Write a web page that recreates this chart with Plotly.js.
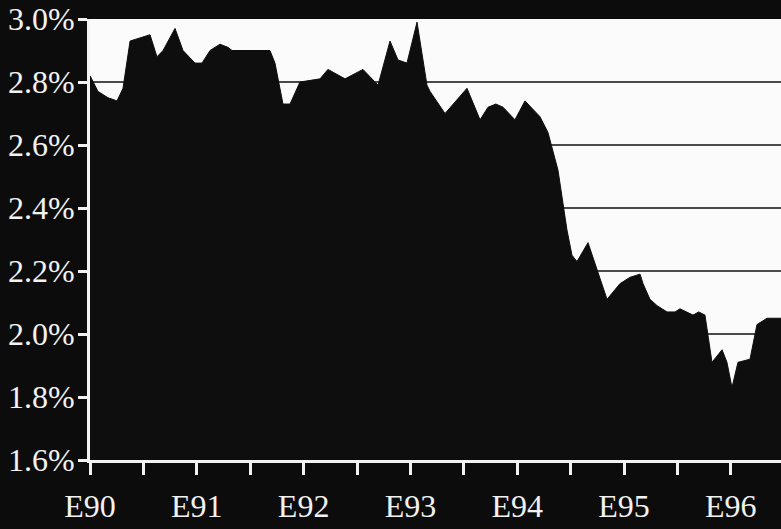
<!DOCTYPE html>
<html>
<head>
<meta charset="utf-8">
<script src="https://cdn.plot.ly/plotly-3.0.1.min.js"></script>
<style>
html,body{margin:0;padding:0;background:#0c0c0c;}
#chart{width:781px;height:529px;}
</style>
</head>
<body>
<div id="chart"></div>
<script>
// Decimal year (E90 = 90.0) and rate in percent
const years = [90.000, 90.075, 90.169, 90.253, 90.309, 90.375, 90.562, 90.627, 90.684, 90.796,
  90.871, 90.983, 91.049, 91.124, 91.217, 91.292, 91.330, 91.685, 91.732, 91.807,
  91.873, 91.966, 92.154, 92.228, 92.388, 92.556, 92.697, 92.809, 92.884, 92.968,
  93.062, 93.155, 93.184, 93.324, 93.530, 93.652, 93.727, 93.800, 93.867, 93.979,
  94.073, 94.213, 94.288, 94.382, 94.466, 94.513, 94.560, 94.663, 94.841, 94.963,
  95.057, 95.150, 95.178, 95.243, 95.310, 95.403, 95.478, 95.524, 95.646, 95.700,
  95.758, 95.824, 95.918, 95.964, 96.011, 96.067, 96.180, 96.245, 96.339, 96.470];
const rates = [2.82, 2.77, 2.75, 2.74, 2.78, 2.93, 2.95, 2.88, 2.90, 2.97,
  2.90, 2.86, 2.86, 2.90, 2.92, 2.91, 2.90, 2.90, 2.86, 2.73,
  2.73, 2.80, 2.81, 2.84, 2.81, 2.84, 2.79, 2.93, 2.87, 2.86,
  2.99, 2.79, 2.77, 2.70, 2.78, 2.68, 2.72, 2.73, 2.72, 2.68,
  2.74, 2.69, 2.64, 2.52, 2.33, 2.25, 2.23, 2.29, 2.11, 2.16,
  2.18, 2.19, 2.16, 2.11, 2.09, 2.07, 2.07, 2.08, 2.06, 2.07,
  2.06, 1.91, 1.95, 1.91, 1.83, 1.91, 1.92, 2.03, 2.05, 2.05];

const xTickVals = [90, 90.5, 91, 91.5, 92, 92.5, 93, 93.5, 94, 94.5, 95, 95.5, 96];
const xTickText = ['E90', '', 'E91', '', 'E92', '', 'E93', '', 'E94', '', 'E95', '', 'E96'];
const yTickVals = [1.6, 1.8, 2.0, 2.2, 2.4, 2.6, 2.8, 3.0];
const yTickText = ['1.6%', '1.8%', '2.0%', '2.2%', '2.4%', '2.6%', '2.8%', '3.0%'];

const trace = {
  x: years, y: rates, type: 'scatter', mode: 'lines',
  line: {color: '#0e0e0e', width: 1},
  fill: 'tozeroy', fillcolor: '#0e0e0e',
  hoverinfo: 'skip'
};

const font = {family: '"Liberation Serif", "Times New Roman", serif', color: '#f2f2f2'};

const layout = {
  width: 781, height: 529,
  margin: {l: 90, r: 0, t: 19, b: 69},
  paper_bgcolor: '#0c0c0c',
  plot_bgcolor: '#fbfbfb',
  showlegend: false,
  xaxis: {
    range: [90, 96.47],
    tickvals: xTickVals, ticktext: xTickText,
    ticks: 'outside', ticklen: 12, tickwidth: 3, tickcolor: '#f2f2f2',
    ticklabelstandoff: 4,
    showline: true, linecolor: '#f2f2f2', linewidth: 3,
    showgrid: false, zeroline: false,
    tickfont: Object.assign({size: 32}, font)
  },
  yaxis: {
    range: [1.6, 3.0],
    tickvals: yTickVals, ticktext: yTickText,
    ticks: 'outside', ticklen: 9, tickwidth: 3, tickcolor: '#f2f2f2',
    ticklabelstandoff: -3,
    showline: true, linecolor: '#f2f2f2', linewidth: 3,
    showgrid: true, gridcolor: '#4a4a4a', gridwidth: 2,
    zeroline: false,
    tickfont: Object.assign({size: 32}, font)
  }
};

Plotly.newPlot('chart', [trace], layout, {staticPlot: true, displayModeBar: false});
</script>
</body>
</html>
